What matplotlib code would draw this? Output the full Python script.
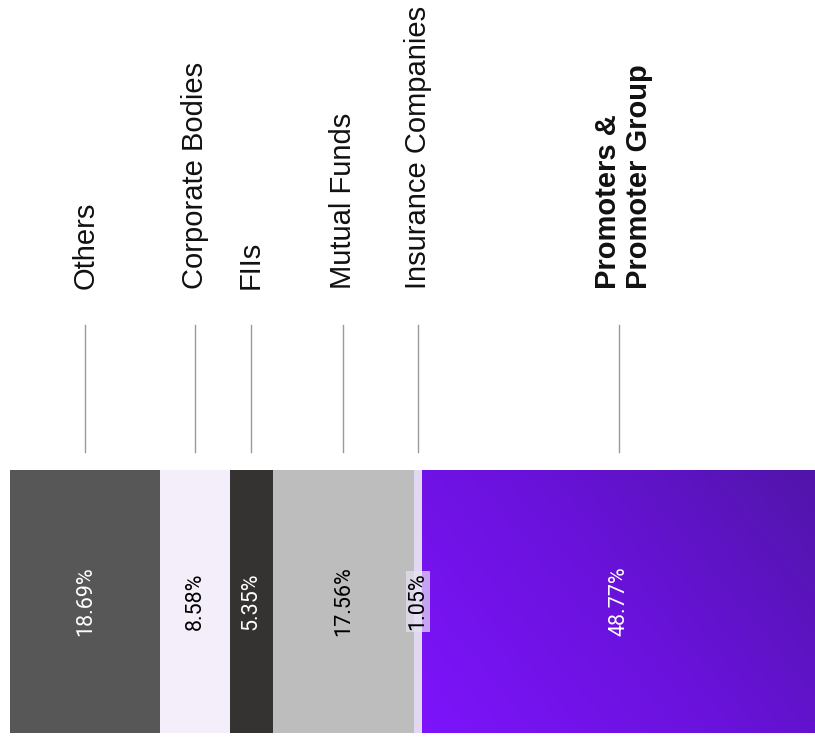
import numpy as np
import matplotlib
matplotlib.use("Agg")
import matplotlib.pyplot as plt
from matplotlib.colors import LinearSegmentedColormap

# shareholding pattern
categories = ['Others', 'Corporate Bodies', 'FIIs', 'Mutual Funds',
              'Insurance Companies', 'Promoters &\nPromoter Group']
values = [18.69, 8.58, 5.35, 17.56, 1.05, 48.77]
colors = ['#575757', '#f3eef9', '#353331', '#bdbdbd', '#e2d8f1', '#7412f0']
text_colors = ['white', 'black', 'white', 'black', 'black', 'white']
bold = [False, False, False, False, False, True]

W, H = 815, 747
fig = plt.figure(figsize=(W / 100, H / 100), dpi=100)
# axes: x in percent, y in pixel rows (top = 0)
ax = fig.add_axes([10 / W, 0, 805 / W, 1])
ax.set_xlim(0, 100)
ax.set_ylim(H, 0)
ax.axis('off')

bar_top, bar_bot = 470, 733
bar_mid = (bar_top + bar_bot) / 2
lefts = np.concatenate([[0], np.cumsum(values)[:-1]])

bars = ax.barh(bar_mid, values, left=lefts, height=bar_bot - bar_top,
               color=colors, edgecolor='none')

# gradient fill for promoters segment
grad_cmap = LinearSegmentedColormap.from_list('promo', ['#7d14fb', '#6a12dc', '#5115aa'])
gx, gy = np.meshgrid(np.linspace(0, 1, 200), np.linspace(0, 1, 100))
g = 0.65 * gx + 0.35 * (1 - gy)
last = bars[-1]
im = ax.imshow(g, cmap=grad_cmap, aspect='auto', interpolation='bilinear',
               extent=(lefts[-1], 100, bar_bot, bar_top), zorder=2)
im.set_clip_path(last)

for i, (cat, v, l) in enumerate(zip(categories, values, lefts)):
    cx = l + v / 2
    # leader line
    ax.plot([cx, cx], [325, 452], color='#9a9a9a', lw=1, zorder=1)
    # category label
    lx = cx + (0.6 if bold[i] else 0)
    ax.text(lx, 289, cat, rotation=90, ha='center', va='bottom',
            multialignment='left', fontsize=21, family='Liberation Sans',
            fontweight='bold' if bold[i] else 'normal', color='#111111',
            linespacing=1.1)
    # value label
    kw = {}
    if v < 2:
        kw['bbox'] = dict(facecolor='#e9e2f4', edgecolor='none', alpha=0.7, pad=1)
    ax.text(cx, bar_mid, f'{v:.2f}%', rotation=90, ha='center', va='center',
            fontsize=15.5, family='Roboto', color=text_colors[i], zorder=4, **kw)

fig.savefig('out.png', dpi=100, facecolor='white')
